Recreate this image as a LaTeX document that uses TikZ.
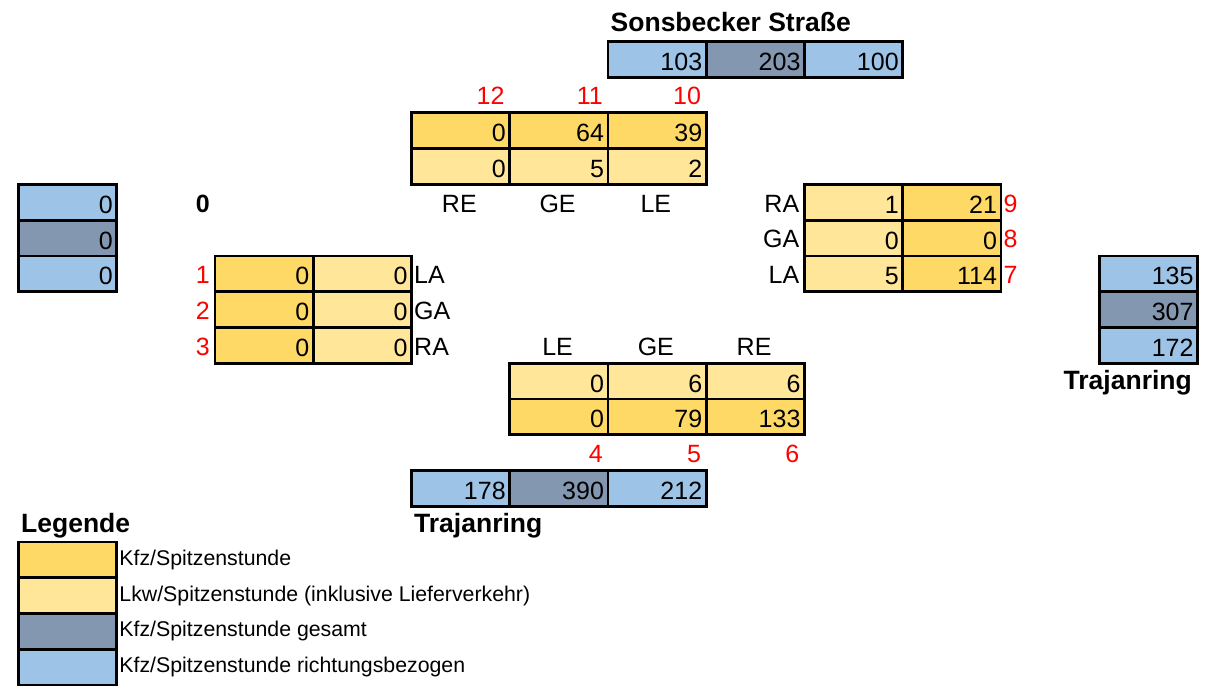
\documentclass[tikz,border=0pt]{standalone}
\usepackage{fontspec}
\setmainfont{Liberation Sans}
\usepackage{tikz}

\definecolor{kfz}{HTML}{FFD966}
\definecolor{lkw}{HTML}{FFE699}
\definecolor{ges}{HTML}{8497B0}
\definecolor{rb}{HTML}{9DC3E6}
\newcommand\numfont{\fontsize{25}{25}\selectfont}
\newcommand\strfont{\fontsize{26.5}{26.5}\selectfont\bfseries}
\newcommand\legfont{\fontsize{21.3}{21.3}\selectfont}

\begin{document}
\begin{tikzpicture}[x=98.25pt, y=-35.75pt,
    txt/.style={anchor=north west, minimum height=35.75pt, text width=90.25pt, text height=22pt, text depth=0pt, inner xsep=4pt, inner ysep=0pt, font=\numfont},
    cell/.style={txt, draw, line width=2.9pt, align=right},
    knr/.style={txt, align=right, text=red},
    lbl/.style={txt},
    strasse/.style={inner sep=4pt, text height=19pt, text depth=0pt, font=\strfont}]
    \useasboundingbox (-17pt,40pt) rectangle (1193pt,-650pt);

    % Sonsbecker Strasse (oben)
    \node[strasse, anchor=west] (sbname) at (6,-0.5) {Sonsbecker Straße};
    \foreach \c/\f/\v [count=\i] in {6/rb/103,7/ges/203,8/rb/100}
        \node[cell, fill=\f] (sb\i) at (\c,0) {\v};
    \foreach \c/\n/\k/\l/\e [count=\i] in {4/12/0/0/RE,5/11/64/5/GE,6/10/39/2/LE} {
        \node[knr] (n\n) at (\c,1) {\n};
        \node[cell, fill=kfz] (nk\i) at (\c,2) {\k};
        \node[cell, fill=lkw] (nl\i) at (\c,3) {\l};
        \node[lbl, align=center] (ne\i) at (\c,4) {\e};
    }

    % Westen
    \foreach \f [count=\i] in {rb,ges,rb}
        \node[cell, fill=\f] (w\i) at (0,3+\i) {0};
    \node[txt, align=right, font=\numfont\bfseries] (wname) at (1,4) {0};
    \foreach \n/\k/\l/\s in {1/0/0/LA,2/0/0/GA,3/0/0/RA} {
        \node[knr] (n\n) at (1,5+\n) {\n};
        \node[cell, fill=kfz] (wk\n) at (2,5+\n) {\k};
        \node[cell, fill=lkw] (wl\n) at (3,5+\n) {\l};
        \node[lbl, align=left] (ws\n) at (4,5+\n) {\s};
    }

    % Osten
    \foreach \r/\s/\l/\k/\n in {4/RA/1/21/9,5/GA/0/0/8,6/LA/5/114/7} {
        \node[lbl, align=right] (os\n) at (7,\r) {\s};
        \node[cell, fill=lkw] (ol\n) at (8,\r) {\l};
        \node[cell, fill=kfz] (ok\n) at (9,\r) {\k};
        \node[knr, align=left] (n\n) at (10,\r) {\n};
    }
    \foreach \f/\v [count=\i] in {rb/135,ges/307,rb/172}
        \node[cell, fill=\f] (o\i) at (11,5+\i) {\v};
    \node[strasse, anchor=east] (oname) at (12,9.5) {Trajanring};

    % Trajanring (unten)
    \foreach \c/\e/\l/\k/\n [count=\i] in {5/LE/0/0/4,6/GE/6/79/5,7/RE/6/133/6} {
        \node[lbl, align=center] (se\i) at (\c,8) {\e};
        \node[cell, fill=lkw] (sl\i) at (\c,9) {\l};
        \node[cell, fill=kfz] (sk\i) at (\c,10) {\k};
        \node[knr] (n\n) at (\c,11) {\n};
    }
    \foreach \c/\f/\v [count=\i] in {4/rb/178,5/ges/390,6/rb/212}
        \node[cell, fill=\f] (s\i) at (\c,12) {\v};
    \node[strasse, anchor=west] (sname) at (4,13.5) {Trajanring};

    % Legende
    \node[strasse, anchor=west] (leg) at (0,13.5) {Legende};
    \foreach \f/\t [count=\i] in {kfz/{Kfz/Spitzenstunde},lkw/{Lkw/Spitzenstunde (inklusive Lieferverkehr)},ges/{Kfz/Spitzenstunde gesamt},rb/{Kfz/Spitzenstunde richtungsbezogen}} {
        \node[cell, fill=\f] (lb\i) at (0,13+\i) {};
        \node[anchor=base west, inner sep=4pt, font=\legfont, yshift=-7pt] (lt\i) at (1,13.5+\i) {\t};
    }
\end{tikzpicture}
\end{document}
